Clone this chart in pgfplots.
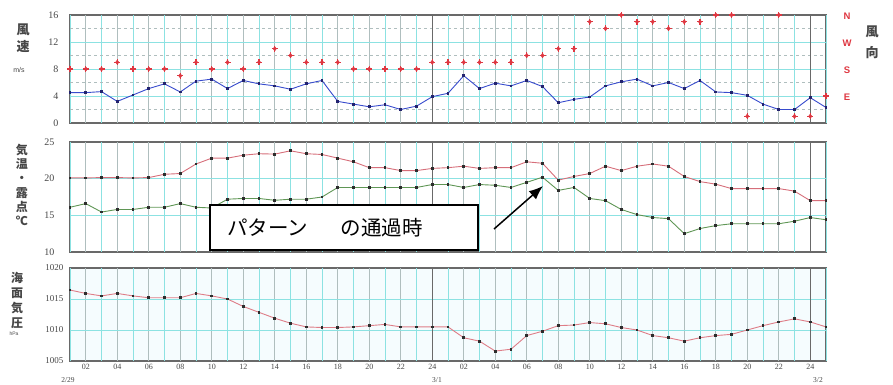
\documentclass[border=0pt]{standalone}
\usepackage{pgfplots}
\pgfplotsset{compat=1.18}
\usepackage{pgfplotstable}
\usetikzlibrary{arrows.meta}
\usepackage{fontspec}
\setmainfont{Liberation Serif}
\newfontfamily\jp{Noto Sans CJK JP}
\newfontfamily\sansf{Liberation Sans}

\definecolor{gcyan}{RGB}{140,226,226}
\definecolor{ggray}{RGB}{175,190,190}
\definecolor{framec}{RGB}{105,105,105}
\definecolor{wsc}{RGB}{55,75,205}
\definecolor{wsm}{RGB}{35,35,110}
\definecolor{wdc}{RGB}{222,55,65}
\definecolor{tc}{RGB}{214,110,122}
\definecolor{tdc}{RGB}{95,150,85}
\definecolor{pc}{RGB}{222,125,135}
\definecolor{mk}{RGB}{45,45,45}
\definecolor{lab}{RGB}{70,70,70}

\pgfplotstableread{
h ws wd t td p
1 4.5 8 20.1 16.1 1016.45
2 4.5 8 20.1 16.6 1015.9
3 4.65 8 20.15 15.45 1015.5
4 3.2 9 20.15 15.8 1015.9
5 4.15 8 20.1 15.8 1015.5
6 5.1 8 20.15 16.1 1015.2
7 5.8 8 20.6 16.1 1015.2
8 4.6 7 20.7 16.6 1015.2
9 6.2 9 22.0 16.1 1015.9
10 6.5 8 22.8 16.0 1015.5
11 5.1 9 22.8 17.2 1015.0
12 6.3 8 23.2 17.3 1013.8
13 5.8 9 23.4 17.3 1012.85
14 5.5 11 23.35 17.05 1011.9
15 5.0 10 23.8 17.2 1011.1
16 5.8 9 23.4 17.2 1010.5
17 6.3 9 23.3 17.5 1010.4
18 3.2 9 22.8 18.8 1010.4
19 2.8 8 22.3 18.8 1010.5
20 2.4 8 21.5 18.8 1010.7
21 2.7 8 21.5 18.8 1010.9
22 2.0 8 21.1 18.8 1010.5
23 2.5 8 21.1 18.8 1010.5
24 3.9 9 21.4 19.2 1010.5
25 4.4 9 21.5 19.2 1010.5
26 7.0 9 21.7 18.8 1008.75
27 5.1 9 21.4 19.2 1008.2
28 5.9 9 21.5 19.1 1006.6
29 5.5 9 21.5 18.8 1006.9
30 6.3 10 22.3 19.5 1009.1
31 5.4 10 22.1 20.2 1009.8
32 3.0 11 19.8 18.4 1010.7
33 3.5 11 20.3 18.8 1010.8
34 3.85 15 20.7 17.3 1011.2
35 5.5 14 21.7 17.0 1011.0
36 6.1 16 21.1 15.8 1010.4
37 6.5 15 21.7 15.1 1010.0
38 5.5 15 22.0 14.7 1009.1
39 6.0 14 21.7 14.55 1008.75
40 5.1 15 20.3 12.5 1008.2
41 6.3 15 19.6 13.2 1008.75
42 4.6 16 19.25 13.6 1009.1
43 4.5 16 18.65 13.85 1009.3
44 4.1 1 18.65 13.85 1010.0
45 2.8 nan 18.65 13.85 1010.7
46 2.0 16 18.65 13.85 1011.3
47 2.0 1 18.3 14.2 1011.8
48 3.75 1 17.0 14.7 1011.3
49 2.3 4 17.0 14.4 1010.5
}\wx

\pgfplotsset{
 panel/.style={scale only axis, width=756pt, xmin=1, xmax=49,
   axis line style={draw=framec, line width=1.3pt},
   tick style={draw=none}, xtick=\empty, clip=false,
   yticklabel style={font=\fontsize{10}{10}\selectfont, text=lab},
   /pgf/number format/assume math mode=true,
   /pgf/number format/1000 sep={},
 },
 dataline/.style={line width=0.9pt, mark=square*, mark size=0.9pt, mark options={draw=mk, fill=mk}},
}

\begin{document}
\begin{tikzpicture}
\path[use as bounding box] (0pt,0pt) rectangle (893pt,-385pt);

% ---------- wind panel ----------
\begin{axis}[panel, at={(70pt,-15pt)}, anchor=north west, height=108pt,
  ymin=0, ymax=16, ytick={0,4,8,12,16}, yticklabel style={xshift=-8pt}]
\pgfplotsinvokeforeach{1,3,...,49}{\draw[gcyan, line width=0.8pt] (axis cs:#1,0) -- (axis cs:#1,16);}
\pgfplotsinvokeforeach{2,4,...,48}{\draw[ggray, line width=0.6pt] (axis cs:#1,0) -- (axis cs:#1,16);}
\pgfplotsinvokeforeach{4,8,12}{\draw[gcyan, line width=0.8pt] (axis cs:1,#1) -- (axis cs:49,#1);}
\pgfplotsinvokeforeach{2,6,10,14}{\draw[ggray, dashed, line width=0.6pt] (axis cs:1,#1) -- (axis cs:49,#1);}
\draw[framec, line width=1.3pt] (axis cs:24,0) -- (axis cs:24,16);
\draw[framec, line width=1.3pt] (axis cs:48,0) -- (axis cs:48,16);
\addplot[wsc, dataline, mark options={draw=wsm, fill=wsm}] table[x=h,y=ws]{\wx};
\addplot[only marks, color=wdc, mark=diamond*, mark size=2.2pt, mark options={draw=wdc, fill=wdc}] table[x=h,y=wd]{\wx};
\addplot[only marks, color=wdc, mark=+, mark size=3pt, mark options={line width=1.1pt, draw=wdc}] table[x=h,y=wd]{\wx};
\end{axis}

% ---------- temperature panel ----------
\begin{axis}[panel, at={(70pt,-142pt)}, anchor=north west, height=110pt,
  ymin=10, ymax=25, ytick={10,15,20,25}, yticklabel style={xshift=-12pt}]
\pgfplotsinvokeforeach{1,3,...,49}{\draw[gcyan, line width=0.8pt] (axis cs:#1,10) -- (axis cs:#1,25);}
\pgfplotsinvokeforeach{2,4,...,48}{\draw[ggray, line width=0.6pt] (axis cs:#1,10) -- (axis cs:#1,25);}
\pgfplotsinvokeforeach{15,20}{\draw[gcyan, line width=0.8pt] (axis cs:1,#1) -- (axis cs:49,#1);}
\draw[framec, line width=1.3pt] (axis cs:24,10) -- (axis cs:24,25);
\draw[framec, line width=1.3pt] (axis cs:48,10) -- (axis cs:48,25);
\addplot[tc, dataline] table[x=h,y=t]{\wx};
\addplot[tdc, dataline] table[x=h,y=td]{\wx};
\end{axis}

% ---------- pressure panel ----------
\begin{axis}[panel, at={(70pt,-268pt)}, anchor=north west, height=93pt,
  ymin=1005, ymax=1020, ytick={1005,1010,1015,1020},
  yticklabel style={xshift=-3pt, font=\fontsize{9}{9}\selectfont},
  axis background/.style={fill=cyan!4},
  xtick={2,4,...,48},
  xticklabels={02,04,06,08,10,12,14,16,18,20,22,24,02,04,06,08,10,12,14,16,18,20,22,24},
  xticklabel style={font=\fontsize{8}{8}\selectfont, text=lab}]
\pgfplotsinvokeforeach{1,3,...,49}{\draw[gcyan, line width=0.8pt] (axis cs:#1,1005) -- (axis cs:#1,1020);}
\pgfplotsinvokeforeach{2,4,...,48}{\draw[ggray, line width=0.6pt] (axis cs:#1,1005) -- (axis cs:#1,1020);}
\pgfplotsinvokeforeach{1010,1015}{\draw[gcyan, line width=0.8pt] (axis cs:1,#1) -- (axis cs:49,#1);}
\draw[framec, line width=1.3pt] (axis cs:24,1005) -- (axis cs:24,1020);
\draw[framec, line width=1.3pt] (axis cs:48,1005) -- (axis cs:48,1020);
\addplot[pc, dataline] table[x=h,y=p]{\wx};
\end{axis}

% ---------- labels ----------
\begin{scope}[every node/.style={text=lab, inner sep=0pt}]
\node[font=\jp\bfseries\fontsize{13}{13}\selectfont] at (23pt,-30pt) {風};
\node[font=\jp\bfseries\fontsize{13}{13}\selectfont] at (23pt,-47pt) {速};
\node[font=\sansf\fontsize{7}{7}\selectfont] at (19pt,-70pt) {m/s};

\node[font=\jp\bfseries\fontsize{12}{12}\selectfont] at (22pt,-150pt) {気};
\node[font=\jp\bfseries\fontsize{12}{12}\selectfont] at (22pt,-164pt) {温};
\node[font=\jp\bfseries\fontsize{12}{12}\selectfont] at (22pt,-179pt) {・};
\node[font=\jp\bfseries\fontsize{12}{12}\selectfont] at (22pt,-193pt) {露};
\node[font=\jp\bfseries\fontsize{12}{12}\selectfont] at (22pt,-207pt) {点};
\node[font=\jp\bfseries\fontsize{12}{12}\selectfont] at (22pt,-221pt) {℃};

\node[font=\jp\bfseries\fontsize{12}{12}\selectfont] at (17pt,-278pt) {海};
\node[font=\jp\bfseries\fontsize{12}{12}\selectfont] at (17pt,-293pt) {面};
\node[font=\jp\bfseries\fontsize{12}{12}\selectfont] at (17pt,-308pt) {気};
\node[font=\jp\bfseries\fontsize{12}{12}\selectfont] at (17pt,-323pt) {圧};
\node[font=\sansf\fontsize{5}{5}\selectfont] at (14pt,-334pt) {hPa};

\node[font=\jp\bfseries\fontsize{13}{13}\selectfont] at (872pt,-32pt) {風};
\node[font=\jp\bfseries\fontsize{13}{13}\selectfont] at (872pt,-53pt) {向};

\node[font=\fontsize{7.5}{7.5}\selectfont] at (68pt,-380pt) {2/29};
\node[font=\fontsize{7.5}{7.5}\selectfont] at (437pt,-380pt) {3/1};
\node[font=\fontsize{7.5}{7.5}\selectfont] at (818pt,-380pt) {3/2};
\end{scope}

\begin{scope}[every node/.style={text=wdc, inner sep=0pt, font=\sansf\bfseries\fontsize{9.5}{9.5}\selectfont}]
\node at (847pt,-16pt) {N};
\node at (847pt,-43pt) {W};
\node at (847pt,-70pt) {S};
\node at (847pt,-97pt) {E};
\end{scope}

% ---------- annotation ----------
\draw[fill=white, line width=1.2pt] (210pt,-205pt) rectangle (478pt,-250pt);
\node[anchor=west, inner sep=0pt, font=\jp\fontsize{20.5}{20.5}\selectfont] at (227pt,-228pt) {パターン　\hspace{12pt}の通過時};
\draw[-{Latex[length=14pt,width=11pt]}, line width=1.5pt] (494pt,-229pt) -- (543pt,-186pt);
\end{tikzpicture}
\end{document}
